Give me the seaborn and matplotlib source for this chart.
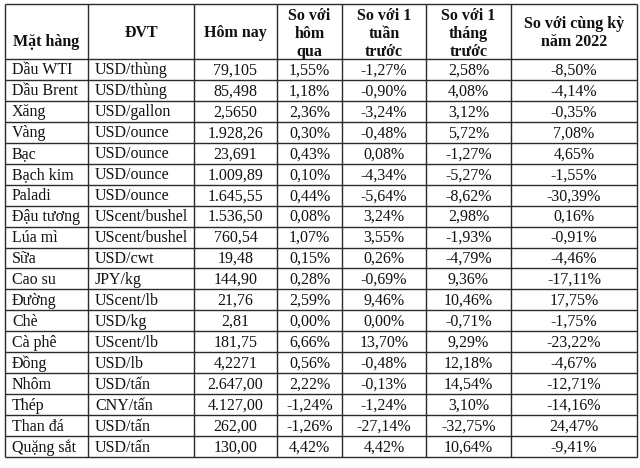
import matplotlib

matplotlib.use("Agg")

import matplotlib.pyplot as plt
import seaborn as sns

HEADERS = [
    "Mặt hàng",
    "ĐVT",
    "Hôm nay",
    "So với\nhôm\nqua",
    "So với 1\ntuần\ntrước",
    "So với 1\ntháng\ntrước",
    "So với cùng kỳ\nnăm 2022",
]
ITEMS = [
    "Dầu WTI", "Dầu Brent", "Xăng", "Vàng", "Bạc", "Bạch kim", "Paladi",
    "Đậu tương", "Lúa mì", "Sữa", "Cao su", "Đường", "Chè", "Cà phê",
    "Đồng", "Nhôm", "Thép", "Than đá", "Quặng sắt",
]
UNITS = [
    "USD/thùng", "USD/thùng", "USD/gallon", "USD/ounce", "USD/ounce",
    "USD/ounce", "USD/ounce", "UScent/bushel", "UScent/bushel", "USD/cwt",
    "JPY/kg", "UScent/lb", "USD/kg", "UScent/lb", "USD/lb", "USD/tấn",
    "CNY/tấn", "USD/tấn", "USD/tấn",
]
TODAY = [
    "79,105", "85,498", "2,5650", "1.928,26", "23,691", "1.009,89", "1.645,55",
    "1.536,50", "760,54", "19,48", "144,90", "21,76", "2,81", "181,75",
    "4,2271", "2.647,00", "4.127,00", "262,00", "130,00",
]
VS_DAY = [
    "1,55%", "1,18%", "2,36%", "0,30%", "0,43%", "0,10%", "0,44%", "0,08%",
    "1,07%", "0,15%", "0,28%", "2,59%", "0,00%", "6,66%", "0,56%", "2,22%",
    "-1,24%", "-1,26%", "4,42%",
]
VS_WEEK = [
    "-1,27%", "-0,90%", "-3,24%", "-0,48%", "0,08%", "-4,34%", "-5,64%",
    "3,24%", "3,55%", "0,26%", "-0,69%", "9,46%", "0,00%", "13,70%",
    "-0,48%", "-0,13%", "-1,24%", "-27,14%", "4,42%",
]
VS_MONTH = [
    "2,58%", "4,08%", "3,12%", "5,72%", "-1,27%", "-5,27%", "-8,62%",
    "2,98%", "-1,93%", "-4,79%", "9,36%", "10,46%", "-0,71%", "9,29%",
    "12,18%", "14,54%", "3,10%", "-32,75%", "10,64%",
]
VS_YEAR = [
    "-8,50%", "-4,14%", "-0,35%", "7,08%", "4,65%", "-1,55%", "-30,39%",
    "0,16%", "-0,91%", "-4,46%", "-17,11%", "17,75%", "-1,75%", "-23,22%",
    "-4,67%", "-12,71%", "-14,16%", "24,47%", "-9,41%",
]

# layout in pixels
COL_EDGES = [5, 88, 194, 277, 342, 426, 511, 637]
TOP, HEAD_BOTTOM, BOTTOM = 4, 59, 457
HEAD_Y = [42, 33, 33, 34, 34, 34, 33]
LINE_COLOR = "#2b2b2b"
TEXT_COLOR = "#111111"

sns.set_theme(style="white")
plt.rcParams["font.family"] = ["Liberation Serif", "DejaVu Serif"]

fig = plt.figure(figsize=(6.4, 4.68), dpi=100)
ax = fig.add_axes([0, 0, 1, 1])
ax.set_xlim(0, 640)
ax.set_ylim(468, 0)
ax.axis("off")

columns = [ITEMS, UNITS, TODAY, VS_DAY, VS_WEEK, VS_MONTH, VS_YEAR]
n_rows = len(ITEMS)
row_h = (BOTTOM - HEAD_BOTTOM) / n_rows
row_edges = [HEAD_BOTTOM + i * row_h for i in range(n_rows + 1)]

# grid lines
ax.hlines([TOP] + row_edges, COL_EDGES[0], COL_EDGES[-1], color=LINE_COLOR, linewidth=1.0)
ax.vlines(COL_EDGES, TOP, BOTTOM, color=LINE_COLOR, linewidth=1.0)

# header
for c, title in enumerate(HEADERS):
    x = (COL_EDGES[c] + COL_EDGES[c + 1]) / 2
    ax.text(x, HEAD_Y[c], title, ha="center", va="center",
            fontsize=11.5, fontweight="bold", color=TEXT_COLOR, linespacing=1.15)

# body
for c, values in enumerate(columns):
    for r, val in enumerate(values):
        y = row_edges[r] + row_h / 2 + 1
        if c < 2:
            ax.text(COL_EDGES[c] + 7, y, val, ha="left", va="center",
                    fontsize=11.5, color=TEXT_COLOR)
        else:
            x = (COL_EDGES[c] + COL_EDGES[c + 1]) / 2
            ax.text(x, y, val, ha="center", va="center", fontsize=11.5, color=TEXT_COLOR)

fig.savefig("out.png", dpi=100)
plt.close(fig)
